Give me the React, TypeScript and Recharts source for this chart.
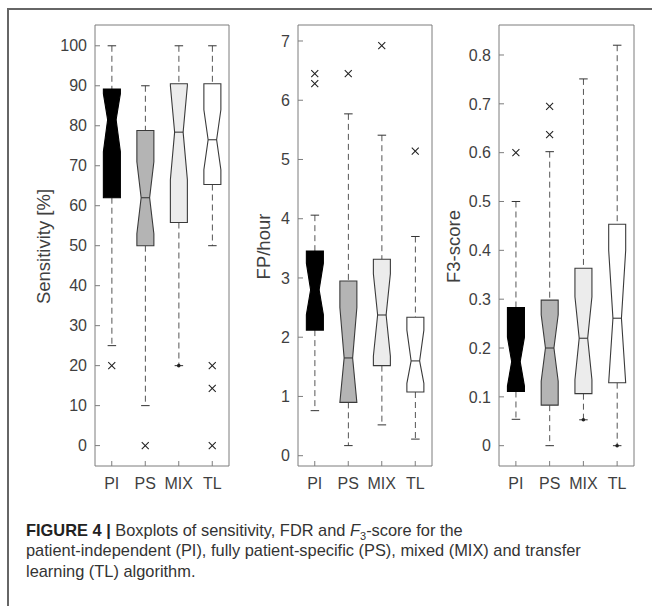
import React from "react";
import { Bar, ComposedChart, Scatter, XAxis, YAxis } from "recharts";

// categories on every panel
const categories = ["PI", "PS", "MIX", "TL"];

// Sensitivity [%]
const sensLow = [25, 10, 20, 50];
const sensQ1 = [62, 50, 55.8, 65.3];
const sensMed = [81.5, 62, 78.4, 76.5];
const sensQ3 = [89.2, 78.8, 90.5, 90.5];
const sensHigh = [100, 90, 100, 100];
const sensNotchLo = [73.5, 53, 66.5, 69];
const sensNotchHi = [88, 71, 90, 84];
const sensOutliers = [[20], [0], [], [20, 14.3, 0]];
const sensEndDots = [null, null, 20, null];
const sensTicks = [0, 10, 20, 30, 40, 50, 60, 70, 80, 90, 100];

// FP/hour
const fpLow = [0.76, 0.17, 0.52, 0.28];
const fpQ1 = [2.12, 0.9, 1.52, 1.075];
const fpMed = [2.8, 1.65, 2.375, 1.6];
const fpQ3 = [3.455, 2.95, 3.315, 2.336];
const fpHigh = [4.06, 5.77, 5.41, 3.7];
const fpNotchLo = [2.38, 0.8, 1.68, 1.22];
const fpNotchHi = [3.25, 2.5, 3.07, 2.12];
const fpOutliers = [[6.45, 6.28], [6.45], [6.92], [5.14]];
const fpEndDots = [null, null, null, null];
const fpTicks = [0, 1, 2, 3, 4, 5, 6, 7];

// F3-score
const f3Low = [0.054, 0, 0.053, 0];
const f3Q1 = [0.111, 0.083, 0.1065, 0.129];
const f3Med = [0.172, 0.2, 0.22, 0.261];
const f3Q3 = [0.2826, 0.298, 0.3632, 0.4533];
const f3High = [0.5, 0.602, 0.751, 0.82];
const f3NotchLo = [0.122, 0.132, 0.135, 0.12];
const f3NotchHi = [0.222, 0.268, 0.305, 0.4];
const f3Outliers = [[0.6], [0.695, 0.637], [], []];
const f3EndDots = [null, null, 0.053, 0];
const f3Ticks = [0, 0.1, 0.2, 0.3, 0.4, 0.5, 0.6, 0.7, 0.8];

const boxFills = ["#000000", "#b4b4b4", "#ececec", "#ffffff"];
const boxStrokes = ["#000000", "#3a3a3a", "#3a3a3a", "#3a3a3a"];
const AXIS = "#7d7d7d";
const FONT = "'Liberation Sans', Arial, sans-serif";

function buildRows(
  low: number[], q1: number[], med: number[], q3: number[], high: number[],
  nlo: number[], nhi: number[], outliers: number[][], dots: (number | null)[]
) {
  return categories.map((name, i) => ({
    name,
    low: low[i],
    q1: q1[i],
    med: med[i],
    q3: q3[i],
    high: high[i],
    nlo: nlo[i],
    nhi: nhi[i],
    o0: outliers[i][0] ?? null,
    o1: outliers[i][1] ?? null,
    o2: outliers[i][2] ?? null,
    dot: dots[i],
  }));
}

const sensRows = buildRows(sensLow, sensQ1, sensMed, sensQ3, sensHigh, sensNotchLo, sensNotchHi, sensOutliers, sensEndDots);
const fpRows = buildRows(fpLow, fpQ1, fpMed, fpQ3, fpHigh, fpNotchLo, fpNotchHi, fpOutliers, fpEndDots);
const f3Rows = buildRows(f3Low, f3Q1, f3Med, f3Q3, f3High, f3NotchLo, f3NotchHi, f3Outliers, f3EndDots);

// notched box + dashed whiskers, drawn inside the [low, high] range bar
function BoxShape(props: any) {
  const { x, y, width, height, payload } = props;
  if (!payload || !isFinite(y) || !isFinite(height)) return <g />;
  const { low, q1, med, q3, high, nlo, nhi, name } = payload;
  const i = categories.indexOf(name);
  const py = (v: number) => y + ((high - v) / (high - low)) * height;
  const cx = x + width / 2;
  const L = x;
  const R = x + width;
  const nw = width / 4;
  const cap = width / 4;
  const yq3 = py(q3);
  const yq1 = py(q1);
  const ym = py(med);
  const ynh = py(Math.min(nhi, q3));
  const ynl = py(Math.max(nlo, q1));
  const pts = [
    [L, yq3], [R, yq3], [R, ynh], [cx + nw, ym], [R, ynl], [R, yq1],
    [L, yq1], [L, ynl], [cx - nw, ym], [L, ynh],
  ].map((p) => p.join(",")).join(" ");
  return (
    <g>
      <line x1={cx} x2={cx} y1={py(high)} y2={yq3} stroke="#555" strokeWidth={1} strokeDasharray="6 4" />
      <line x1={cx} x2={cx} y1={yq1} y2={py(low)} stroke="#555" strokeWidth={1} strokeDasharray="6 4" />
      <line x1={cx - cap} x2={cx + cap} y1={py(high)} y2={py(high)} stroke="#333" strokeWidth={1} />
      <line x1={cx - cap} x2={cx + cap} y1={py(low)} y2={py(low)} stroke="#333" strokeWidth={1} />
      <polygon points={pts} fill={boxFills[i]} stroke={boxStrokes[i]} strokeWidth={1.1} />
      <line x1={cx - nw} x2={cx + nw} y1={ym} y2={ym} stroke={boxStrokes[i]} strokeWidth={1.1} />
    </g>
  );
}

function CrossMark(props: any) {
  const { cx, cy, payload, k } = props;
  if (!payload || payload[k] == null || !isFinite(cx) || !isFinite(cy)) return <g />;
  const s = 3.5;
  return (
    <g stroke="#222" strokeWidth={1.1}>
      <line x1={cx - s} y1={cy - s} x2={cx + s} y2={cy + s} />
      <line x1={cx - s} y1={cy + s} x2={cx + s} y2={cy - s} />
    </g>
  );
}

function EndDot(props: any) {
  const { cx, cy, payload } = props;
  if (!payload || payload.dot == null || !isFinite(cx) || !isFinite(cy)) return <g />;
  return <circle cx={cx} cy={cy} r={1.8} fill="#222" />;
}

type PanelProps = {
  rows: any[];
  domain: [number, number];
  ticks: number[];
  title: string;
  titleDist: number;
  left: number;
  width: number;
  marginLeft: number;
  yWidth: number;
  marginRight: number;
};

function Panel({ rows, domain, ticks, title, titleDist, left, width, marginLeft, yWidth, marginRight }: PanelProps) {
  const tickStyle = { fontSize: 16, fill: "#3f3f3f", fontFamily: FONT };
  return (
    <div style={{ position: "absolute", left, top: 0 }}>
      <ComposedChart
        width={width}
        height={500}
        data={rows}
        margin={{ top: 24, right: marginRight, bottom: 4, left: marginLeft }}
        barCategoryGap="25%"
      >
        <XAxis
          dataKey="name"
          interval={0}
          tickSize={-5}
          tickMargin={17}
          height={30}
          stroke={AXIS}
          tick={tickStyle}
        />
        <XAxis xAxisId="t" dataKey="name" orientation="top" interval={0} tickSize={-5} height={1} stroke={AXIS} tick={false} />
        <YAxis
          type="number"
          domain={domain}
          ticks={ticks}
          allowDataOverflow
          interval={0}
          tickSize={-5}
          tickMargin={13}
          width={yWidth}
          stroke={AXIS}
          tick={tickStyle}
          label={{
            content: (p: any) => {
              const vb = p.viewBox || {};
              const tx = vb.x + vb.width - titleDist;
              const ty = vb.y + vb.height / 2 + 1;
              return (
                <text
                  x={tx}
                  y={ty}
                  transform={`rotate(-90 ${tx} ${ty})`}
                  textAnchor="middle"
                  dominantBaseline="central"
                  fontSize={18.5}
                  fill="#3f3f3f"
                  fontFamily={FONT}
                >
                  {title}
                </text>
              );
            },
          }}
        />
        <YAxis
          yAxisId="r"
          orientation="right"
          type="number"
          domain={domain}
          ticks={ticks}
          allowDataOverflow
          interval={0}
          tickSize={-5}
          width={1}
          stroke={AXIS}
          tick={false}
        />
        <Bar dataKey={(d: any) => [d.low, d.high]} isAnimationActive={false} shape={(p: any) => <BoxShape {...p} />} />
        {["o0", "o1", "o2"].map((k) => (
          <Scatter key={k} dataKey={k} isAnimationActive={false} shape={(p: any) => <CrossMark {...p} k={k} />} />
        ))}
        <Scatter dataKey="dot" isAnimationActive={false} shape={(p: any) => <EndDot {...p} />} />
      </ComposedChart>
    </div>
  );
}

export default function App() {
  return (
    <div style={{ position: "absolute", left: 0, top: 0, width: 652, height: 606, background: "#fff", overflow: "hidden" }}>
      <div
        style={{
          position: "absolute",
          left: 7,
          top: 8,
          width: 700,
          height: 700,
          borderTop: "2px solid #666",
          borderLeft: "2px solid #666",
        }}
      />
      <Panel rows={sensRows} domain={[-5.1, 105.2]} ticks={sensTicks} title="Sensitivity [%]" titleDist={52}
        left={0} width={240} marginLeft={35} yWidth={60} marginRight={10} />
      <Panel rows={fpRows} domain={[-0.174, 7.27]} ticks={fpTicks} title="FP/hour" titleDist={35}
        left={240} width={200} marginLeft={18} yWidth={40} marginRight={7} />
      <Panel rows={f3Rows} domain={[-0.0416, 0.8614]} ticks={f3Ticks} title="F3-score" titleDist={46}
        left={440} width={212} marginLeft={9} yWidth={50} marginRight={17} />
      <div
        style={{
          position: "absolute",
          left: 26,
          top: 520,
          fontFamily: FONT,
          fontSize: 16.4,
          lineHeight: "20.4px",
          color: "#333",
          whiteSpace: "nowrap",
        }}
      >
        <b style={{ color: "#222" }}>FIGURE 4 |</b> Boxplots of sensitivity, FDR and <i>F</i>
        <sub style={{ fontSize: 11, lineHeight: 0 }}>3</sub>-score for the
        <br />
        patient-independent (PI), fully patient-specific (PS), mixed (MIX) and transfer
        <br />
        learning (TL) algorithm.
      </div>
    </div>
  );
}
